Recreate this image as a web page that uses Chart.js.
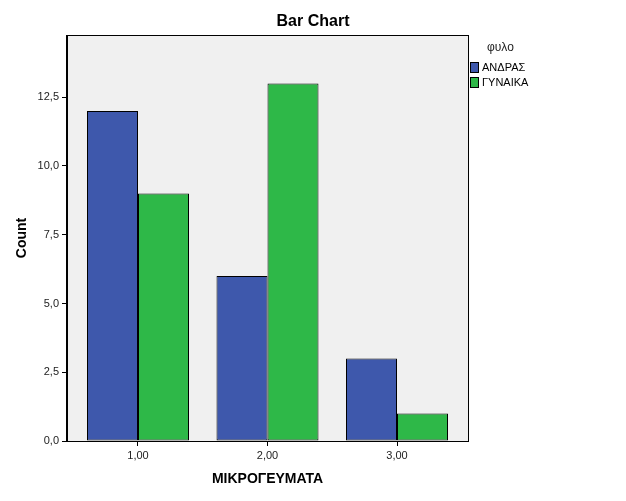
<!DOCTYPE html>
<html>
<head>
<meta charset="utf-8">
<script src="https://cdn.jsdelivr.net/npm/chart.js@4/dist/chart.umd.min.js"></script>
<style>
    html, body { margin: 0; padding: 0; background: #fff; }
    #wrap { width: 626px; height: 501px; position: relative; }
</style>
</head>
<body>
<div id="wrap"><canvas id="barChart" width="626" height="501"></canvas></div>
<script>
// --- Data ---
const categories = [1, 2, 3];           // ΜΙΚΡΟΓΕΥΜΑΤΑ
const seriesNames = ['ΑΝΔΡΑΣ', 'ΓΥΝΑΙΚΑ'];
const menCounts = [12, 6, 3];
const womenCounts = [9, 13, 1];
const yTicks = [0, 2.5, 5, 7.5, 10, 12.5];

const FONT = '"Liberation Sans", Arial, sans-serif';
const BLUE = '#3e58ac';
const GREEN = '#2eb848';

// Comma decimals like the SPSS output
const fmt = (v, d) => v.toFixed(d).replace('.', ',');

// Plot background, frame, title and the legend block on the right
const spssDecor = {
    id: 'spssDecor',
    beforeDraw(chart) {
        const { ctx, chartArea: a } = chart;
        ctx.save();
        ctx.fillStyle = '#f0f0f0';
        ctx.fillRect(a.left, a.top, a.right - a.left, a.bottom - a.top);
        ctx.restore();
    },
    afterDraw(chart) {
        const { ctx, chartArea: a } = chart;
        ctx.save();
        ctx.strokeStyle = '#000';
        ctx.lineWidth = 1;
        ctx.strokeRect(a.left - 0.5, a.top + 0.5, a.right - a.left + 1, a.bottom - a.top);

        // title
        ctx.fillStyle = '#000';
        ctx.font = 'bold 16px ' + FONT;
        ctx.textAlign = 'center';
        ctx.textBaseline = 'middle';
        ctx.fillText('Bar Chart', 313, 22);

        // legend
        ctx.textAlign = 'left';
        ctx.font = '12px ' + FONT;
        ctx.fillStyle = '#222';
        ctx.fillText('φυλο', 487, 48);
        ctx.font = '11px ' + FONT;
        chart.data.datasets.forEach((ds, i) => {
            const y = 62 + i * 15;
            ctx.fillStyle = ds.backgroundColor;
            ctx.fillRect(470.5, y + 0.5, 8, 10);
            ctx.strokeStyle = '#000';
            ctx.strokeRect(470.5, y + 0.5, 8, 10);
            ctx.fillStyle = '#000';
            ctx.fillText(ds.label, 482, y + 6);
        });
        ctx.restore();
    }
};

const toPoints = vals => categories.map((c, i) => ({ x: c, y: vals[i] }));

const barStyle = {
    borderColor: '#000',
    borderWidth: 1,
    borderSkipped: false,
    inflateAmount: 0,
    categoryPercentage: 0.7876,
    barPercentage: 1.0
};

new Chart(document.getElementById('barChart'), {
    type: 'bar',
    data: {
        datasets: [
            Object.assign({ label: seriesNames[0], data: toPoints(menCounts), backgroundColor: BLUE }, barStyle),
            Object.assign({ label: seriesNames[1], data: toPoints(womenCounts), backgroundColor: GREEN }, barStyle)
        ]
    },
    options: {
        responsive: false,
        animation: false,
        layout: { padding: { left: 0, top: 35, right: 158, bottom: 0 } },
        plugins: {
            legend: { display: false },
            title: { display: false },
            tooltip: { enabled: false }
        },
        scales: {
            x: {
                type: 'linear',
                min: 0.45174,
                max: 3.54826,
                offset: false,
                afterBuildTicks: s => { s.ticks = categories.map(v => ({ value: v })); },
                afterFit: s => { s.height = 60; },
                ticks: {
                    color: '#222',
                    font: { family: FONT, size: 11 },
                    padding: 3,
                    callback: v => fmt(v, 2)
                },
                grid: { display: true, drawOnChartArea: false, drawTicks: true, tickLength: 5, color: '#000', offset: false },
                border: { display: true, color: '#000' },
                title: {
                    display: true,
                    text: 'ΜΙΚΡΟΓΕΥΜΑΤΑ',
                    color: '#000',
                    font: { family: FONT, size: 14, weight: 'bold' },
                    padding: { top: 4, bottom: 13.6 }
                }
            },
            y: {
                min: 0,
                max: 14.7636,
                afterBuildTicks: s => { s.ticks = yTicks.map(v => ({ value: v })); },
                afterFit: s => { s.width = 67; },
                ticks: {
                    color: '#222',
                    font: { family: FONT, size: 11 },
                    padding: 3,
                    callback: v => fmt(v, 1)
                },
                grid: { display: true, drawOnChartArea: false, drawTicks: true, tickLength: 5, color: '#000' },
                border: { display: true, color: '#000' },
                title: {
                    display: true,
                    text: 'Count',
                    color: '#000',
                    font: { family: FONT, size: 14, weight: 'bold' },
                    padding: { top: 13.6, bottom: 4 }
                }
            }
        }
    },
    plugins: [spssDecor]
});
</script>
</body>
</html>
